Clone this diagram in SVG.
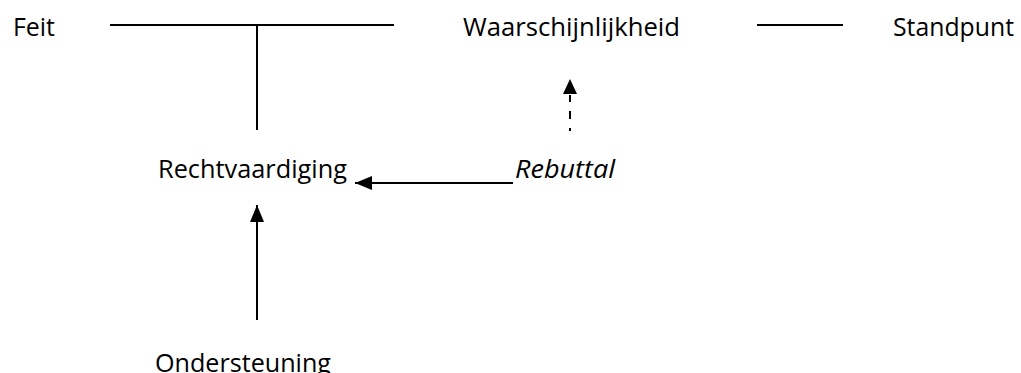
<svg xmlns="http://www.w3.org/2000/svg" width="1021" height="373" viewBox="0 0 1021 373">
  <style>
    .lbl { font-family: "Open Sans", "Liberation Sans", sans-serif; font-size: 26px; fill: #000; }
    .it { font-style: italic; }
    .ln { stroke: #000; stroke-width: 2; fill: none; }
  </style>
  <defs>
    <marker id="head" viewBox="0 0 17 14" refX="17" refY="7" markerWidth="17" markerHeight="14" markerUnits="userSpaceOnUse" orient="auto">
      <path d="M0,0 L17,7 L0,14 Z" fill="#000"/>
    </marker>
  </defs>
  <rect width="1021" height="373" fill="#fff"/>

  <g id="feit"><text class="lbl" x="13" y="36" textLength="42" lengthAdjust="spacingAndGlyphs">Feit</text></g>
  <g id="waarschijnlijkheid"><text class="lbl" x="463" y="36" textLength="217" lengthAdjust="spacingAndGlyphs">Waarschijnlijkheid</text></g>
  <g id="standpunt"><text class="lbl" x="893" y="36" textLength="121" lengthAdjust="spacingAndGlyphs">Standpunt</text></g>
  <g id="rechtvaardiging"><text class="lbl" x="158" y="178" textLength="189" lengthAdjust="spacingAndGlyphs">Rechtvaardiging</text></g>
  <g id="rebuttal"><text class="lbl it" x="515" y="178" textLength="100" lengthAdjust="spacingAndGlyphs">Rebuttal</text></g>
  <g id="ondersteuning"><text class="lbl" x="155" y="372" textLength="176" lengthAdjust="spacingAndGlyphs">Ondersteuning</text></g>

  <g id="connectors">
    <!-- Feit to Waarschijnlijkheid, with the warrant branch -->
    <line class="ln" x1="110" y1="25" x2="394" y2="25"/>
    <line class="ln" x1="257" y1="25" x2="257" y2="130"/>
    <!-- Waarschijnlijkheid to Standpunt -->
    <line class="ln" x1="757" y1="25" x2="843" y2="25"/>
    <!-- rebuttal qualifier (dashed) -->
    <line class="ln" x1="570" y1="131" x2="570" y2="95" stroke-dasharray="3 9 8 9 8"/>
    <path d="M570,79 L577,94 L563,94 Z" fill="#000"/>
    <!-- rebuttal against warrant -->
    <line class="ln" x1="513" y1="183" x2="355" y2="183" marker-end="url(#head)"/>
    <!-- backing supports warrant -->
    <line class="ln" x1="257" y1="320" x2="257" y2="205" marker-end="url(#head)"/>
  </g>
</svg>
